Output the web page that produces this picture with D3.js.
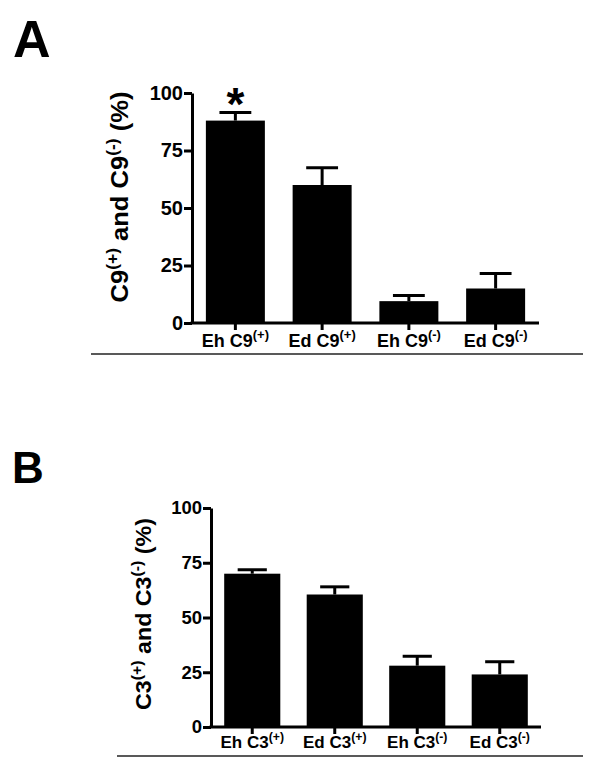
<!DOCTYPE html>
<html><head><meta charset="utf-8">
<script src="https://cdn.jsdelivr.net/npm/d3@7"></script>
<style>body{margin:0;background:#fff} text{font-family:"Liberation Sans",Arial,sans-serif;font-weight:bold;fill:#000}</style>
</head><body><svg id="c" width="600" height="779"></svg>
<script>
// ---- data ----
const categoriesA = ["Eh C9", "Ed C9", "Eh C9", "Ed C9"];
const categoriesB = ["Eh C3", "Ed C3", "Eh C3", "Ed C3"];
const signs = ["(+)", "(+)", "(-)", "(-)"];
const meansA = [88, 60, 9.5, 15];
const errorsA = [3.5, 7.5, 2.5, 6.5];
const meansB = [70, 60.5, 28, 24];
const errorsB = [1.8, 3.5, 4.3, 5.8];
const significantA = [true, false, false, false];
const significantB = [false, false, false, false];
const yTicks = [0, 25, 50, 75, 100];

const svg = d3.select("#c");

function panel(o) {
  const g = svg.append("g");
  const y = d3.scaleLinear().domain([0, 100]).range([o.yBot, o.yTop]);
  const x = d3.scaleBand().domain(d3.range(o.cats.length)).range([o.x0, o.x1])
    .paddingInner(0.32).paddingOuter(0.16);

  // panel letter
  g.append("text").attr("x", o.letterX).attr("y", o.letterY)
    .style("font-size", o.letterSize + "px").text(o.letter);

  // bars
  g.selectAll("rect.bar").data(o.means).join("rect").attr("class", "bar")
    .attr("x", (d, i) => x(i)).attr("width", x.bandwidth())
    .attr("y", d => y(d)).attr("height", d => y(0) - y(d)).attr("fill", "#000");

  // error bars
  const capW = x.bandwidth() * o.capFrac;
  o.means.forEach((m, i) => {
    const cx = x(i) + x.bandwidth() / 2;
    g.append("line").attr("x1", cx).attr("x2", cx).attr("y1", y(m)).attr("y2", y(m + o.errs[i]))
      .attr("stroke", "#000").attr("stroke-width", 3);
    g.append("line").attr("x1", cx - capW / 2).attr("x2", cx + capW / 2)
      .attr("y1", y(m + o.errs[i])).attr("y2", y(m + o.errs[i]))
      .attr("stroke", "#000").attr("stroke-width", 3);
    if (o.sig[i]) {
      g.append("text").attr("x", cx).attr("y", y(m + o.errs[i]) + o.starDy)
        .attr("text-anchor", "middle").style("font-size", o.starSize + "px").text("*");
    }
  });

  // y axis
  const ya = g.append("g").attr("transform", `translate(${o.x0},0)`)
    .call(d3.axisLeft(y).tickValues(yTicks).tickSize(8).tickSizeOuter(0).tickPadding(1));
  ya.selectAll("path,line").attr("stroke", "#000").attr("stroke-width", 3);
  ya.selectAll("text").style("font-size", o.tickFont + "px").attr("fill", "#000");
  ya.attr("font-family", null).attr("font-size", null);

  // x axis
  const xa = g.append("g").attr("transform", `translate(0,${o.yBot})`)
    .call(d3.axisBottom(x).tickSize(7).tickSizeOuter(0).tickFormat(""));
  xa.select("path.domain").attr("d", `M${o.x0 - 1.5},0H${o.x1}`);
  xa.selectAll("path,line").attr("stroke", "#000").attr("stroke-width", 3);
  xa.attr("font-family", null).attr("font-size", null);
  xa.selectAll(".tick text").remove();
  xa.selectAll(".tick").each(function (d) {
    const t = d3.select(this).append("text").attr("y", o.xLabDy).attr("text-anchor", "middle")
      .style("font-size", o.xFont + "px");
    t.append("tspan").text(o.cats[d]);
    t.append("tspan").attr("dy", -o.xFont * 0.42).style("font-size", o.xFont * 0.72 + "px").text(signs[d]);
  });

  // y label
  const lab = g.append("text").attr("transform", `translate(${o.labX},${o.labY}) rotate(-90)`)
    .attr("text-anchor", "middle").style("font-size", o.labFont + "px")
    .attr("textLength", o.labLen).attr("lengthAdjust", "spacingAndGlyphs");
  const sub = o.labStem;
  const sup = o.labFont * 0.68, up = o.labFont * 0.42;
  lab.append("tspan").text(sub);
  lab.append("tspan").attr("dy", -up).style("font-size", sup + "px").text("(+)");
  lab.append("tspan").attr("dy", up).text(" and " + sub);
  lab.append("tspan").attr("dy", -up).style("font-size", sup + "px").text("(-)");
  lab.append("tspan").attr("dy", up).text(" (%)");

  // separator
  g.append("line").attr("x1", o.sepX0).attr("x2", o.sepX1).attr("y1", o.sepY).attr("y2", o.sepY)
    .attr("stroke", "#222").attr("stroke-width", 1.3);
}

panel({
  letter: "A", letterX: 13, letterY: 57, letterSize: 52,
  cats: categoriesA, means: meansA, errs: errorsA, sig: significantA,
  x0: 192, x1: 539, yTop: 93, yBot: 323, capFrac: 0.54,
  tickFont: 20, xFont: 18, xLabDy: 24, starSize: 46, starDy: 7,
  labX: 128, labY: 197, labFont: 24, labLen: 211, labStem: "C9",
  sepX0: 91, sepX1: 583, sepY: 354
});
panel({
  letter: "B", letterX: 12, letterY: 483, letterSize: 44,
  cats: categoriesB, means: meansB, errs: errorsB, sig: significantB,
  x0: 211, x1: 541, yTop: 508, yBot: 727, capFrac: 0.52,
  tickFont: 18.5, xFont: 17, xLabDy: 21, starSize: 44, starDy: 7,
  labX: 151, labY: 614, labFont: 22, labLen: 192, labStem: "C3",
  sepX0: 117, sepX1: 583, sepY: 756
});
</script></body></html>
